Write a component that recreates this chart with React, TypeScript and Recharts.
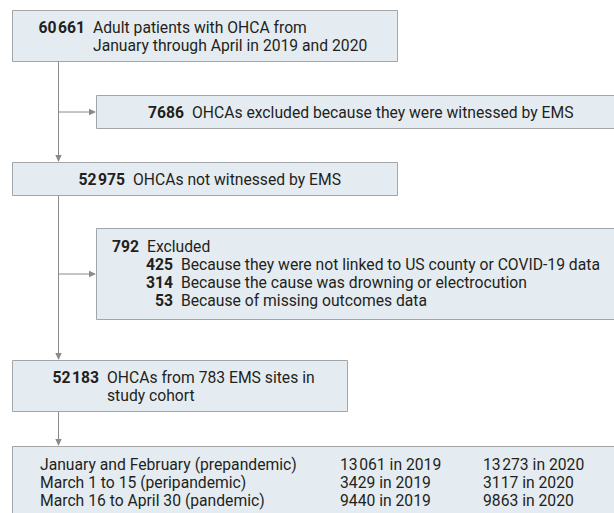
import React from "react";
import { ScatterChart, Scatter, XAxis, YAxis, ReferenceArea, ReferenceLine } from "recharts";

// ---- data ----
const flowCounts = [60661, 7686, 52975, 792, 52183];
const flowLabels = [
  ["Adult patients with OHCA from", "January through April in 2019 and 2020"],
  ["OHCAs excluded because they were witnessed by EMS"],
  ["OHCAs not witnessed by EMS"],
  ["Excluded"],
  ["OHCAs from 783 EMS sites in", "study cohort"],
];
const exclusionCounts = [425, 314, 53];
const exclusionReasons = [
  "Because they were not linked to US county or COVID-19 data",
  "Because the cause was drowning or electrocution",
  "Because of missing outcomes data",
];
const periodLabels = [
  "January and February (prepandemic)",
  "March 1 to 15 (peripandemic)",
  "March 16 to April 30 (pandemic)",
];
const cases2019 = [13061, 3429, 9440];
const cases2020 = [13273, 3117, 9863];

// ---- style / layout ----
const W = 614;
const H = 513;
const FILL = "#e5ecf1";
const BORDER = "#a3a6a9";
const LINE = "#8a8a8a";
const TEXT = "#231f20";
const FONT = "Roboto, 'Liberation Sans', sans-serif";
const FS = 15.7;
const LH = 18;
const GAP = 8;

const fmt = (n: number) =>
  n >= 10000 ? String(n).replace(/\B(?=(\d{3})+(?!\d))/g, "\u200A") : String(n);

const boxes = [
  { x1: 12.5, x2: 397.5, y1: 10.5, y2: 61.5 },
  { x1: 96.5, x2: 620, y1: 95.5, y2: 128.5 },
  { x1: 12.5, x2: 397.5, y1: 162.5, y2: 195.5 },
  { x1: 96.5, x2: 620, y1: 228.5, y2: 319.5 },
  { x1: 12.5, x2: 347.5, y1: 360.5, y2: 411.5 },
  { x1: 12.5, x2: 620, y1: 446.5, y2: 540 },
];
const labelX = [93, 192, 133, 147, 107];
const firstLineY = [27, 112, 179, 246, 377];
const subNumEnd = 173;
const subLabelX = 181;
const periodX = 40;
const col2019X = 340;
const col2020X = 483;
const tableY0 = 464;
const trunkX = 58.5;

type TextItem = { x: number; y: number; text: string; bold?: boolean; anchor?: string };

const texts: TextItem[] = [];
flowCounts.forEach((n, i) => {
  texts.push({ x: labelX[i] - GAP, y: firstLineY[i], text: fmt(n), bold: true, anchor: "end" });
  flowLabels[i].forEach((t, j) => {
    texts.push({ x: labelX[i], y: firstLineY[i] + j * LH, text: t, anchor: "start" });
  });
});
exclusionCounts.forEach((n, i) => {
  const y = firstLineY[3] + (i + 1) * LH;
  texts.push({ x: subNumEnd, y, text: fmt(n), bold: true, anchor: "end" });
  texts.push({ x: subLabelX, y, text: exclusionReasons[i], anchor: "start" });
});
periodLabels.forEach((p, i) => {
  const y = tableY0 + i * LH;
  texts.push({ x: periodX, y, text: p, anchor: "start" });
  texts.push({ x: col2019X, y, text: `${fmt(cases2019[i])} in 2019`, anchor: "start" });
  texts.push({ x: col2020X, y, text: `${fmt(cases2020[i])} in 2020`, anchor: "start" });
});

const sideY1 = (boxes[1].y1 + boxes[1].y2) / 2;
const sideY2 = (boxes[3].y1 + boxes[3].y2) / 2;

const segments = [
  [{ x: trunkX, y: boxes[0].y2 }, { x: trunkX, y: boxes[2].y1 - 4 }],
  [{ x: trunkX, y: sideY1 }, { x: boxes[1].x1 - 4, y: sideY1 }],
  [{ x: trunkX, y: boxes[2].y2 }, { x: trunkX, y: boxes[4].y1 - 4 }],
  [{ x: trunkX, y: sideY2 }, { x: boxes[3].x1 - 4, y: sideY2 }],
  [{ x: trunkX, y: boxes[4].y2 }, { x: trunkX, y: boxes[5].y1 - 4 }],
];

const arrows = [
  { x: trunkX, y: boxes[2].y1 - 0.5, dir: "down" },
  { x: boxes[1].x1 - 0.5, y: sideY1, dir: "right" },
  { x: trunkX, y: boxes[4].y1 - 0.5, dir: "down" },
  { x: boxes[3].x1 - 0.5, y: sideY2, dir: "right" },
  { x: trunkX, y: boxes[5].y1 - 0.5, dir: "down" },
];

const TextShape = (props: any) => {
  const { cx, cy, payload } = props;
  return (
    <text
      x={cx}
      y={cy}
      dy="0.36em"
      textAnchor={payload.anchor}
      fontFamily={FONT}
      fontSize={FS}
      fontWeight={payload.bold ? 700 : 400}
      fill={TEXT}
    >
      {payload.text}
    </text>
  );
};

const ArrowShape = (props: any) => {
  const { cx, cy, payload } = props;
  const L = 7;
  const h = 3.2;
  const d =
    payload.dir === "down"
      ? `M${cx},${cy} L${cx - h},${cy - L} L${cx + h},${cy - L} Z`
      : `M${cx},${cy} L${cx - L},${cy - h} L${cx - L},${cy + h} Z`;
  return <path d={d} fill={LINE} stroke="none" />;
};

export default function App() {
  return (
    <div style={{ position: "absolute", left: 0, top: 0, width: W, height: H, background: "#fff" }}>
      <ScatterChart width={W} height={H} margin={{ top: 0, right: 0, bottom: 0, left: 0 }}>
        <XAxis type="number" dataKey="x" domain={[0, W]} hide allowDataOverflow />
        <YAxis type="number" dataKey="y" domain={[0, H]} reversed hide allowDataOverflow />
        {boxes.map((b, i) => (
          <ReferenceArea
            key={`b${i}`}
            x1={b.x1}
            x2={b.x2}
            y1={b.y1}
            y2={b.y2}
            fill={FILL}
            fillOpacity={1}
            stroke={BORDER}
            strokeWidth={1}
            ifOverflow="visible"
          />
        ))}
        {segments.map((s, i) => (
          <ReferenceLine
            key={`s${i}`}
            segment={s}
            stroke={LINE}
            strokeWidth={1}
            ifOverflow="visible"
          />
        ))}
        <Scatter data={arrows} shape={ArrowShape} isAnimationActive={false} />
        <Scatter data={texts} shape={TextShape} isAnimationActive={false} />
      </ScatterChart>
    </div>
  );
}
